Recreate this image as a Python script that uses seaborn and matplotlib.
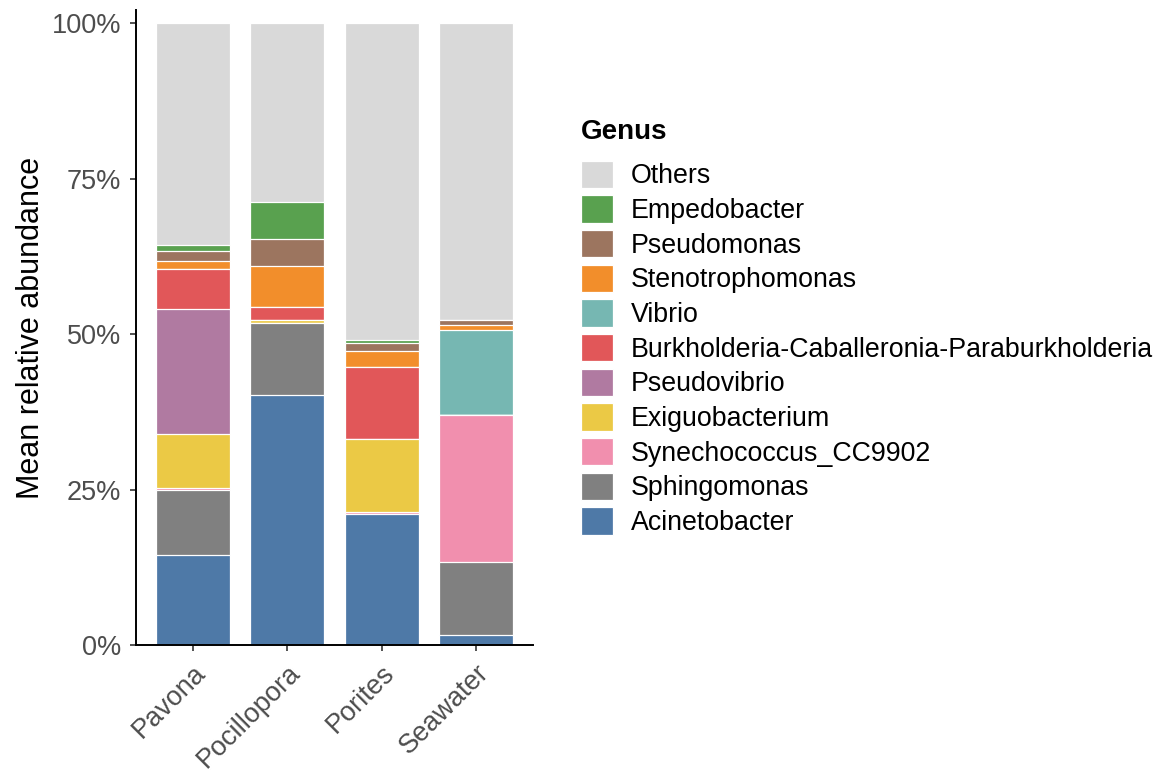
import matplotlib
matplotlib.use("Agg")
import matplotlib.pyplot as plt
import seaborn as sns
import pandas as pd
import numpy as np
from matplotlib.patches import Patch

# sites and genus abundances (%), stacked bottom -> top
sites = ["Pavona", "Pocillopora", "Porites", "Seawater"]

acinetobacter = [14.5, 40.2, 21.0, 1.6]
sphingomonas = [10.5, 11.6, 0.1, 11.7]
synechococcus = [0.3, 0.0, 0.3, 23.7]
exiguobacterium = [8.7, 0.4, 11.7, 0.0]
pseudovibrio = [20.0, 0.0, 0.0, 0.0]
burkholderia = [6.4, 2.1, 11.6, 0.0]
vibrio = [0.1, 0.0, 0.0, 13.7]
stenotrophomonas = [1.3, 6.6, 2.6, 0.7]
pseudomonas = [1.6, 4.4, 1.3, 0.8]
empedobacter = [1.0, 6.0, 0.4, 0.0]
others = [35.6, 28.7, 51.0, 47.8]

genera = ["Acinetobacter", "Sphingomonas", "Synechococcus_CC9902", "Exiguobacterium",
          "Pseudovibrio", "Burkholderia-Caballeronia-Paraburkholderia", "Vibrio",
          "Stenotrophomonas", "Pseudomonas", "Empedobacter", "Others"]
valores = [acinetobacter, sphingomonas, synechococcus, exiguobacterium, pseudovibrio,
           burkholderia, vibrio, stenotrophomonas, pseudomonas, empedobacter, others]
cores = ["#4E79A7", "#808080", "#F18FAE", "#EBC945", "#B07AA1", "#E15759",
         "#76B7B2", "#F28E2B", "#9C755F", "#59A14F", "#D9D9D9"]

df = pd.DataFrame({g: v for g, v in zip(genera, valores)}, index=sites)
cum = df.cumsum(axis=1)

sns.set_theme(style="ticks")
plt.rcParams["font.family"] = ["Liberation Sans", "DejaVu Sans"]
plt.rcParams["text.color"] = "black"
plt.rcParams["axes.labelcolor"] = "black"

fig = plt.figure(figsize=(11.65, 7.83), dpi=100)
ax = fig.add_axes([0.1167, 0.1762, 0.3408, 0.8108])

# draw cumulative bars from the top segment down so each covers the one below
for g, c in zip(reversed(genera), reversed(cores)):
    d = pd.DataFrame({"site": sites, "valor": cum[g].values})
    sns.barplot(data=d, x="site", y="valor", order=sites, color=c, width=0.785,
                edgecolor="white", linewidth=0.9, saturation=1, ax=ax)

ax.set_xlim(-0.6, 3.6)
ax.set_ylim(0, 102.1)
ax.set_yticks([0, 25, 50, 75, 100])
ax.set_yticklabels(["0%", "25%", "50%", "75%", "100%"])
ax.set_xlabel("")
ax.set_ylabel("Mean relative abundance", fontsize=22, color="black", labelpad=4)

for s in ["top", "right"]:
    ax.spines[s].set_visible(False)
for s in ["left", "bottom"]:
    ax.spines[s].set_linewidth(1.4)
    ax.spines[s].set_color("black")

ax.tick_params(axis="both", labelsize=19.5, labelcolor="#4D4D4D", color="#333333",
               length=4, width=1.2, pad=6.5)
plt.setp(ax.get_xticklabels(), rotation=45, ha="right", va="top", rotation_mode="anchor")

handles = [Patch(facecolor=c, edgecolor="white", linewidth=0.9, label=g)
           for g, c in zip(reversed(genera), reversed(cores))]
leg = fig.legend(handles=handles, loc="upper left", bbox_to_anchor=(0.4894, 0.8623),
                 frameon=False, fontsize=19.3, title="Genus",
                 title_fontproperties={"weight": "bold", "size": 20},
                 handlelength=1.2, handleheight=1.2, labelspacing=0.22,
                 handletextpad=0.65, borderaxespad=0, labelcolor="black")
leg.get_title().set_color("black")
leg._legend_box.align = "left"
leg._legend_box.sep = 11.5

fig.savefig("out.png", dpi=100)
